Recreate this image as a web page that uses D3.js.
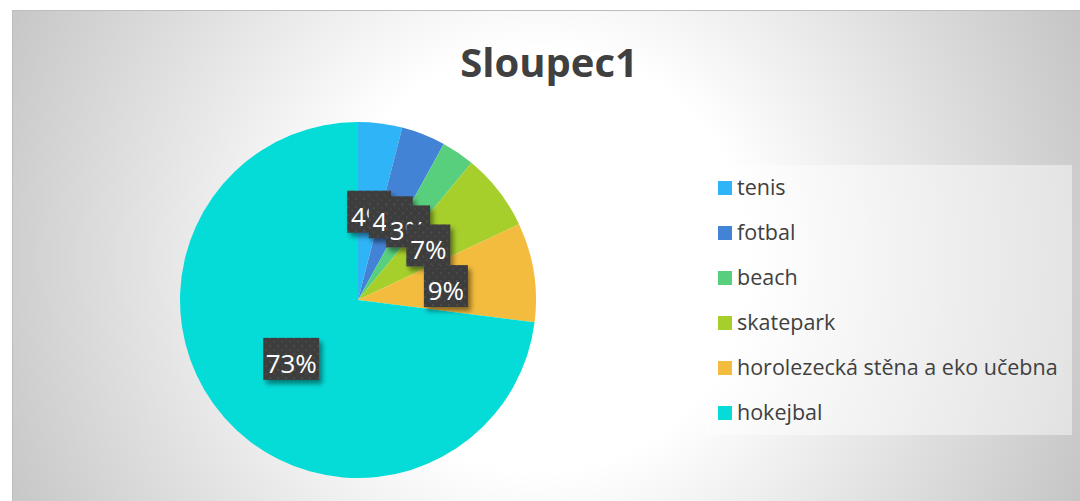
<!DOCTYPE html>
<html><head><meta charset="utf-8">
<script src="https://cdn.jsdelivr.net/npm/d3@7"></script>
<style>html,body{margin:0;padding:0;background:#fff;overflow:hidden}</style>
</head><body>
<script>
const categories = ["tenis","fotbal","beach","skatepark","horolezecká stěna a eko učebna","hokejbal"];
const values = [4,4,3,7,9,73];
const colors = ["#30b4f8","#4383d6","#58cf7c","#a6cf2c","#f4bc3e","#05dcd8"];
const title = "Sloupec1";

const W = 1080, H = 501;
const svg = d3.select("body").append("svg").attr("width", W).attr("height", H);
const defs = svg.append("defs");
const rg = defs.append("radialGradient").attr("id","bg").attr("gradientUnits","userSpaceOnUse")
  .attr("cx",540).attr("cy",260).attr("r",600);
rg.append("stop").attr("offset",0).attr("stop-color","#ffffff");
rg.append("stop").attr("offset",0.35).attr("stop-color","#ffffff");
rg.append("stop").attr("offset",1).attr("stop-color","#c4c4c4");

const pat = defs.append("pattern").attr("id","dots").attr("patternUnits","userSpaceOnUse")
  .attr("width",8).attr("height",8);
pat.append("rect").attr("width",8).attr("height",8).attr("fill","#3d3d3d");
pat.append("rect").attr("x",2).attr("y",2).attr("width",2).attr("height",2).attr("fill","#4c4c4c");
pat.append("rect").attr("x",6).attr("y",6).attr("width",2).attr("height",2).attr("fill","#474747");

const flt = defs.append("filter").attr("id","sh").attr("x","-30%").attr("y","-30%").attr("width","180%").attr("height","180%");
flt.append("feDropShadow").attr("dx",3).attr("dy",4).attr("stdDeviation",2.5).attr("flood-color","#000").attr("flood-opacity",0.45);

svg.append("rect").attr("x",12.5).attr("y",10.5).attr("width",W).attr("height",H)
  .attr("fill","url(#bg)").attr("stroke","#bdbdbd").attr("stroke-width",1);

svg.append("text").attr("x",549).attr("y",77).attr("text-anchor","middle")
  .attr("font-family","Open Sans").attr("font-weight","bold").attr("font-size",40)
  .attr("fill","#404040").text(title);

const cx = 358, cy = 300, r = 178;
const data = categories.map((c,i)=>({name:c, value:values[i], color:colors[i]}));
const pie = d3.pie().value(d=>d.value).sort(null);
const arc = d3.arc().innerRadius(0).outerRadius(r);
const arcs = pie(data);
const g = svg.append("g").attr("transform",`translate(${cx},${cy})`);
g.selectAll("path").data(arcs).join("path").attr("d",arc).attr("fill",d=>d.data.color);

const total = d3.sum(values);
const fmt = d => Math.round(d.value/total*100) + "%";
const lg = g.append("g");
arcs.forEach(a=>{
  const [x,y] = arc.centroid(a);
  const txt = fmt(a.data);
  const bw = txt.length>2 ? 56 : 44, bh = 42;
  const gg = lg.append("g").attr("transform",`translate(${x},${y})`);
  gg.append("rect").attr("x",-bw/2).attr("y",-bh/2).attr("width",bw).attr("height",bh)
    .attr("fill","url(#dots)").attr("filter","url(#sh)");
  gg.append("text").attr("x",0).attr("y",14).attr("text-anchor","middle")
    .attr("font-family","Open Sans").attr("font-size",26).attr("fill","#ffffff").text(txt);
});

// legend
const lx = 705, ly = 165, lw = 367, lh = 270;
svg.append("rect").attr("x",lx).attr("y",ly).attr("width",lw).attr("height",lh)
  .attr("fill","#ffffff").attr("fill-opacity",0.45);
const leg = svg.append("g");
data.forEach((d,i)=>{
  const y = 188 + i*45;
  leg.append("rect").attr("x",718).attr("y",y-7).attr("width",14).attr("height",14).attr("fill",d.color);
  leg.append("text").attr("x",737).attr("y",y+7).attr("font-family","Open Sans").attr("font-size",21.5)
    .attr("fill","#404040").text(d.name);
});
</script>
</body></html>
